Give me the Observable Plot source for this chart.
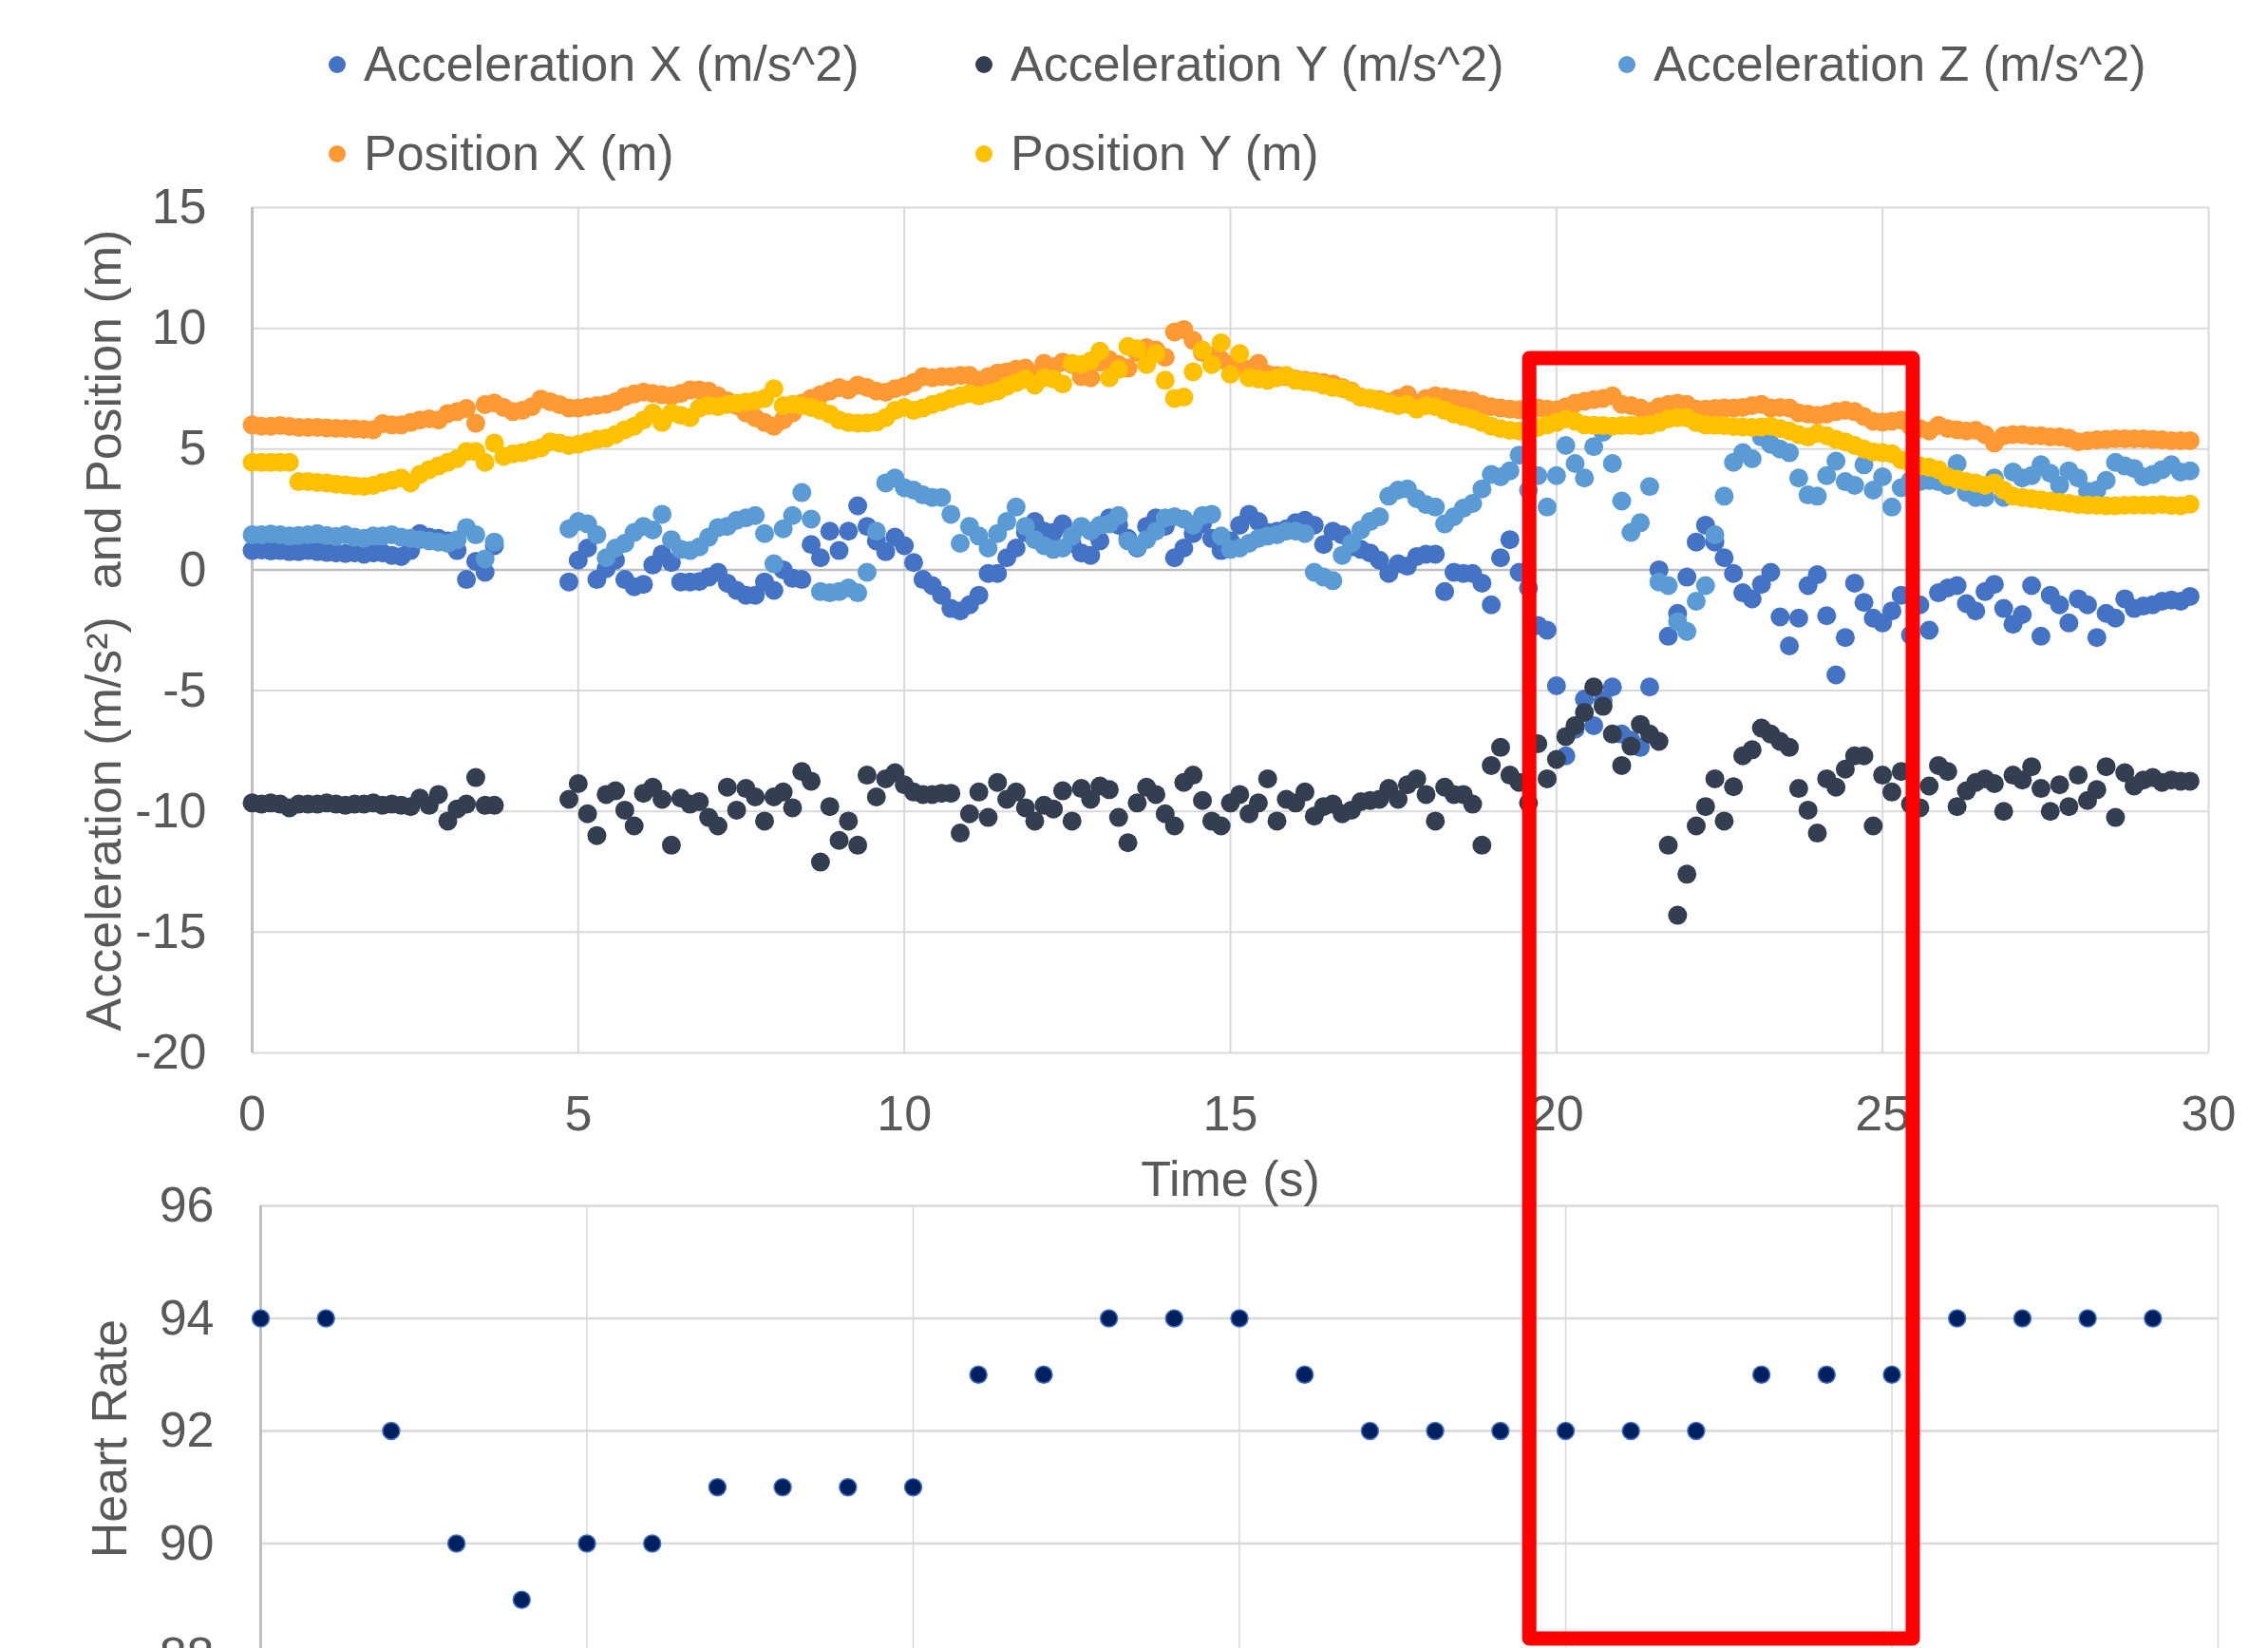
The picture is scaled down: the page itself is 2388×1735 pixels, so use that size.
<!DOCTYPE html>
<html>
<head>
<meta charset="utf-8">
<script src="https://cdn.jsdelivr.net/npm/d3@7"></script>
<script src="https://cdn.jsdelivr.net/npm/@observablehq/plot@0.6"></script>
<style>
html,body{margin:0;padding:0;background:#fff;}
body{width:2388px;height:1735px;overflow:hidden;position:relative;font-family:"Liberation Sans",Arial,sans-serif;color:#595959;}
.item{position:absolute;font-size:52px;line-height:52px;white-space:nowrap;color:#595959;}
.sw{position:absolute;width:18px;height:18px;border-radius:50%;}
.chart{position:absolute;left:0;}
</style>
</head>
<body>
<div id="legend"></div>
<div id="hr" class="chart" style="top:1255px"></div>
<div id="top" class="chart" style="top:200px"></div>
<script>
// ---- data (sampled 7 times per second, one row of 7 per second) ----
const samplesPerSecond = 7;

const accelX = [
 0.8,0.82,0.78,0.8,0.75,0.75,0.8,
 0.75,0.72,0.7,0.68,0.7,0.65,0.7,
 0.7,0.6,0.55,0.8,1.5,1.35,1.3,
 1.2,0.8,-0.4,0.35,-0.1,1.0,null,
 null,null,null,null,null,null,-0.5,
 0.4,0.9,-0.4,0.05,0.4,-0.4,-0.7,
 -0.6,0.2,0.65,0.3,-0.5,-0.5,-0.48,
 -0.3,-0.1,-0.55,-0.85,-1.05,-1.05,-0.5,
 -0.85,0.0,-0.35,-0.4,1.05,0.5,1.6,
 0.8,1.6,2.65,1.8,1.2,0.75,1.35,
 1.0,0.3,-0.4,-0.65,-1.05,-1.6,-1.7,
 -1.45,-1.05,-0.15,-0.15,0.5,0.9,1.55,
 2.0,1.6,1.55,1.9,1.1,0.7,0.6,
 1.2,2.15,1.85,1.3,0.9,1.8,2.15,
 1.8,0.5,0.9,1.5,1.9,1.3,0.8,
 1.2,1.85,2.3,2.0,1.55,1.6,1.7,
 1.95,2.05,1.85,1.05,1.6,1.45,0.95,
 0.85,0.7,0.4,-0.15,0.25,0.15,0.55,
 0.65,0.65,-0.9,-0.1,-0.15,-0.15,-0.55,
 -1.45,0.5,1.25,-0.1,-0.75,-2.3,-2.5,
 -4.8,-7.7,-6.6,-5.35,-6.45,-5.4,-4.85,
 -6.8,-7.05,-7.35,-4.85,0.0,-2.75,-1.8,
 -0.3,1.15,1.85,1.15,0.5,-0.15,-0.95,
 -1.2,-0.6,-0.1,-1.95,-3.15,-2.0,-0.65,
 -0.2,-1.9,-4.35,-2.8,-0.55,-1.35,-2.0,
 -2.2,-1.7,-1.05,-2.7,-1.45,-2.5,-0.95,
 -0.75,-0.65,-1.4,-1.7,-0.9,-0.6,-1.6,
 -2.25,-1.85,-0.65,-2.75,-1.05,-1.45,-2.2,
 -1.2,-1.45,-2.8,-1.8,-2.0,-1.2,-1.6,
 -1.5,-1.45,-1.3,-1.25,-1.3,-1.1
];

const accelY = [
 -9.65,-9.7,-9.65,-9.7,-9.85,-9.7,-9.7,
 -9.7,-9.65,-9.7,-9.75,-9.7,-9.7,-9.65,
 -9.75,-9.7,-9.75,-9.8,-9.45,-9.75,-9.3,
 -10.4,-9.9,-9.7,-8.6,-9.75,-9.75,null,
 null,null,null,null,null,null,-9.5,
 -8.85,-10.1,-11.0,-9.3,-9.15,-9.95,-10.6,
 -9.25,-9.0,-9.5,-11.4,-9.45,-9.7,-9.6,
 -10.25,-10.6,-9.0,-9.95,-9.05,-9.4,-10.4,
 -9.4,-9.2,-9.85,-8.35,-8.75,-12.1,-9.8,
 -11.2,-10.4,-11.4,-8.5,-9.4,-8.65,-8.4,
 -8.9,-9.2,-9.3,-9.3,-9.25,-9.25,-10.9,
 -10.1,-9.2,-10.25,-8.8,-9.5,-9.2,-9.85,
 -10.4,-9.75,-9.9,-9.15,-10.4,-9.05,-9.5,
 -8.95,-9.1,-10.25,-11.3,-9.65,-9.0,-9.3,
 -10.1,-10.6,-8.8,-8.5,-9.55,-10.4,-10.6,
 -9.65,-9.3,-10.1,-9.65,-8.65,-10.4,-9.5,
 -9.65,-9.2,-10.2,-9.8,-9.7,-10.1,-9.95,
 -9.6,-9.55,-9.5,-9.05,-9.5,-8.9,-8.65,
 -9.3,-10.4,-9.0,-9.3,-9.3,-9.7,-11.4,
 -8.1,-7.35,-8.5,-8.8,-9.65,-7.2,-8.65,
 -7.85,-6.9,-6.45,-5.9,-4.85,-5.65,-6.8,
 -8.1,-7.3,-6.4,-6.8,-7.1,-11.4,-14.3,
 -12.6,-10.6,-9.8,-8.65,-10.4,-8.98,-7.7,
 -7.45,-6.55,-6.8,-7.1,-7.35,-9.05,-9.95,
 -10.9,-8.65,-9.0,-8.25,-7.7,-7.7,-10.6,
 -8.5,-9.2,-8.35,-9.7,-9.85,-8.95,-8.1,
 -8.35,-9.8,-9.15,-8.8,-8.65,-8.85,-10.0,
 -8.5,-8.7,-8.15,-9.05,-10.0,-8.9,-9.8,
 -8.5,-9.55,-9.1,-8.15,-10.25,-8.4,-8.95,
 -8.7,-8.6,-8.8,-8.7,-8.75,-8.75
];

const accelZ = [
 1.45,1.45,1.48,1.45,1.4,1.42,1.45,
 1.5,1.42,1.38,1.45,1.35,1.3,1.4,
 1.4,1.45,1.35,1.3,1.25,1.2,1.15,
 1.1,1.25,1.75,1.45,0.45,1.15,null,
 null,null,null,null,null,null,1.7,
 2.0,1.9,1.45,0.5,0.9,1.1,1.55,
 1.8,1.65,2.3,1.25,0.85,0.8,0.95,
 1.35,1.75,1.8,2.05,2.15,2.25,1.5,
 0.25,1.7,2.25,3.2,2.1,-0.9,-0.95,
 -0.9,-0.75,-0.95,-0.1,1.6,3.6,3.8,
 3.4,3.3,3.1,3.0,3.0,2.3,1.1,
 1.8,1.4,0.9,1.5,2.0,2.6,1.8,
 1.25,1.0,0.85,0.9,1.4,1.8,1.6,
 1.85,1.9,2.25,1.2,0.95,1.25,1.6,
 2.15,2.2,2.1,1.85,2.25,2.3,1.4,
 0.85,0.9,1.1,1.3,1.4,1.45,1.6,
 1.6,1.5,-0.1,-0.3,-0.45,0.6,1.1,
 1.65,2.0,2.2,3.05,3.3,3.35,2.95,
 2.7,2.6,1.9,2.2,2.55,2.75,3.35,
 3.95,3.85,4.1,4.75,3.3,3.9,2.6,
 3.9,5.15,4.4,3.8,5.1,5.7,4.4,
 2.85,1.55,1.95,3.45,-0.5,-0.65,-2.15,
 -2.55,-1.3,-0.65,1.45,3.05,4.45,4.85,
 4.6,5.5,5.2,5.0,4.85,3.8,3.1,
 3.05,3.9,4.5,3.65,3.5,4.35,3.3,
 3.85,2.6,3.4,3.7,3.65,3.7,3.65,
 3.5,4.4,3.2,3.0,3.0,3.8,3.0,
 4.05,3.8,3.9,4.35,4.0,3.5,4.1,
 3.8,3.25,3.3,3.7,4.45,4.3,4.2,
 3.85,3.95,4.15,4.35,4.05,4.1
];

const positionX = [
 6.0,5.95,5.95,5.97,5.94,5.9,5.9,
 5.9,5.88,5.86,5.85,5.84,5.82,5.8,
 6.05,6.0,6.0,6.1,6.2,6.25,6.2,
 6.47,6.55,6.68,6.07,6.84,6.91,6.72,
 6.55,6.6,6.75,7.07,6.96,6.84,6.7,
 6.7,6.75,6.8,6.85,6.96,7.17,7.28,
 7.36,7.3,7.25,7.2,7.3,7.45,7.45,
 7.4,7.2,7.0,6.8,6.5,6.3,6.1,
 5.95,6.2,6.5,6.9,7.1,7.25,7.4,
 7.55,7.45,7.65,7.55,7.4,7.35,7.5,
 7.6,7.75,8.0,7.95,8.0,8.0,8.05,
 8.05,7.85,8.0,8.15,8.2,8.3,8.35,
 8.1,8.55,8.4,8.6,8.5,8.0,7.95,
 8.6,8.7,8.5,8.35,9.0,9.2,9.1,
 8.8,9.85,9.95,9.5,9.0,8.85,8.7,
 8.5,8.4,8.3,8.55,8.1,8.05,8.0,
 7.9,7.85,7.8,7.75,7.7,7.55,7.4,
 7.15,7.1,7.05,6.95,7.1,7.25,6.9,
 7.1,7.2,7.15,7.1,7.05,7.0,6.85,
 6.75,6.7,6.65,6.63,6.65,6.7,6.65,
 6.62,6.75,6.9,6.98,7.05,7.1,7.2,
 6.85,6.8,6.7,6.55,6.75,6.85,6.9,
 6.85,6.65,6.65,6.68,6.7,6.7,6.72,
 6.8,6.85,6.7,6.72,6.7,6.5,6.45,
 6.4,6.45,6.55,6.6,6.55,6.35,6.15,
 6.12,6.15,6.2,5.95,5.85,5.75,5.98,
 5.85,5.8,5.75,5.78,5.6,5.25,5.55,
 5.6,5.6,5.55,5.55,5.5,5.5,5.45,
 5.3,5.35,5.38,5.4,5.42,5.42,5.42,
 5.42,5.4,5.38,5.35,5.35,5.35
];

const positionY = [
 4.45,4.45,4.45,4.45,4.45,3.65,3.65,
 3.62,3.6,3.55,3.52,3.48,3.45,3.5,
 3.62,3.7,3.8,3.6,3.95,4.15,4.3,
 4.45,4.6,4.9,4.9,4.45,5.25,4.7,
 4.8,4.85,4.95,5.05,5.3,5.25,5.15,
 5.2,5.3,5.4,5.45,5.6,5.8,5.95,
 6.2,6.5,6.1,6.5,6.4,6.3,6.7,
 6.8,6.75,6.85,6.9,6.95,7.0,7.1,
 7.5,6.8,6.85,6.8,6.72,6.6,6.45,
 6.2,6.1,6.07,6.08,6.12,6.3,6.6,
 6.72,6.6,6.7,6.85,6.95,7.1,7.2,
 7.3,7.2,7.3,7.4,7.6,7.75,7.9,
 7.65,7.95,7.9,7.7,8.55,8.5,8.65,
 9.05,7.95,8.3,9.25,9.15,8.5,8.95,
 7.85,7.1,7.15,8.2,9.1,8.5,9.4,
 8.1,8.95,7.95,7.9,7.85,7.95,8.05,
 7.85,7.8,7.75,7.65,7.55,7.5,7.35,
 7.15,7.1,7.0,6.9,6.8,6.85,6.65,
 6.8,6.75,6.6,6.45,6.35,6.25,6.1,
 5.95,5.85,5.78,5.75,5.75,5.9,6.0,
 6.1,6.25,6.15,6.0,5.98,5.97,5.95,
 5.97,5.98,5.96,6.0,6.1,6.25,6.3,
 6.3,6.1,6.0,5.98,5.97,5.93,5.92,
 5.9,5.92,5.95,5.85,5.75,5.6,5.5,
 5.65,5.55,5.4,5.3,5.15,5.0,4.88,
 4.85,4.8,4.55,4.4,4.3,4.25,4.15,
 3.85,3.75,3.65,3.6,3.5,3.6,3.3,
 3.05,3.0,2.95,2.9,2.85,2.8,2.75,
 2.7,2.68,2.67,2.65,2.65,2.67,2.68,
 2.68,2.68,2.7,2.66,2.65,2.72
];

const hrTime = [0,1,2,3,4,5,6,7,8,9,10,11,12,13,14,15,16,17,18,19,20,21,22,23,24,25,26,27,28,29];
const heartRate = [94,94,92,90,89,90,90,91,91,91,91,93,93,94,94,94,93,92,92,92,92,92,92,93,93,93,94,94,94,94];

const seriesNames = ["Acceleration X (m/s^2)","Acceleration Y (m/s^2)","Acceleration Z (m/s^2)","Position X (m)","Position Y (m)"];
const seriesColors = ["#4472C4","#333F50","#5B9BD5","#FF9933","#FFC000"];
const seriesValues = [accelX, accelY, accelZ, positionX, positionY];

const xTicks = [0,5,10,15,20,25,30];
const yTicks = [-20,-15,-10,-5,0,5,10,15];
const hrTicks = [88,90,92,94,96];

const xTitle = "Time (s)";
const yTitle = "Acceleration (m/s\u00B2)\u00A0 and Position (m)";
const hrTitle = "Heart Rate";

// highlighted time window (annotation spanning both panels, in top-panel data units)
const highlight = [{t1: 19.59, t2: 25.47, lo: -44.26, hi: 8.75}];

// ---- legend ----
const legendLayout = [[355,68],[1036,68],[1713,68],[355,162],[1036,162]];
const legend = document.getElementById("legend");
seriesNames.forEach((name, i) => {
  const [cx, cy] = legendLayout[i];
  const sw = document.createElement("div");
  sw.className = "sw";
  sw.style.left = (cx - 9) + "px";
  sw.style.top = (cy - 9) + "px";
  sw.style.background = seriesColors[i];
  legend.appendChild(sw);
  const it = document.createElement("div");
  it.className = "item";
  it.style.left = (cx + 28) + "px";
  it.style.top = (cy - 27) + "px";
  it.textContent = name;
  legend.appendChild(it);
});

// ---- top panel ----
const fontFamily = "'Liberation Sans', Arial, sans-serif";
const rowsFor = vals => vals.map((v, i) => ({t: i / samplesPerSecond, v})).filter(d => d.v != null);

const dotMarks = seriesValues.map((vals, i) =>
  Plot.dot(rowsFor(vals), {x: "t", y: "v", r: 10, fill: seriesColors[i], stroke: "none"})
);

const topPlot = Plot.plot({
  width: 2388, height: 1068,
  marginLeft: 265, marginRight: 63, marginTop: 18, marginBottom: 160,
  style: {fontFamily, fontSize: "52px", color: "#595959", background: "transparent", overflow: "visible"},
  x: {domain: [0, 30]},
  y: {domain: [-20, 15]},
  marks: [
    Plot.gridX(xTicks, {stroke: "#d9d9d9", strokeOpacity: 1, strokeWidth: 2}),
    Plot.gridY(yTicks, {stroke: "#d9d9d9", strokeOpacity: 1, strokeWidth: 2}),
    Plot.ruleY([0], {stroke: "#bfbfbf", strokeWidth: 2.5}),
    Plot.ruleX([0], {stroke: "#bfbfbf", strokeWidth: 3}),
    Plot.axisX(xTicks, {tickSize: 0, tickPadding: 45, label: null, tickFormat: d => String(d)}),
    Plot.axisY(yTicks, {tickSize: 0, tickPadding: 48, label: null, tickFormat: d => String(d)}),
    ...dotMarks,
    Plot.text([xTitle], {frameAnchor: "bottom", dy: 134, text: d => d, lineAnchor: "middle", fill: "#595959"}),
    Plot.text([yTitle], {frameAnchor: "left", dx: -155, rotate: -90, text: d => d, textAnchor: "middle", lineAnchor: "middle", fill: "#595959"}),
    Plot.rect(highlight, {x1: "t1", x2: "t2", y1: "lo", y2: "hi", fill: "none", stroke: "#FF0000", strokeWidth: 15, strokeLinejoin: "round"})
  ]
});
document.getElementById("top").appendChild(topPlot);

// ---- bottom panel: heart rate ----
const hrRows = hrTime.map((t, i) => ({t, hr: heartRate[i]}));
const hrPlot = Plot.plot({
  width: 2388, height: 508,
  marginLeft: 274, marginRight: 53, marginTop: 14, marginBottom: 20,
  style: {fontFamily, fontSize: "52px", color: "#595959", background: "transparent", overflow: "visible"},
  x: {domain: [0, 30], axis: null},
  y: {domain: [88, 96]},
  marks: [
    Plot.gridX(xTicks, {stroke: "#d9d9d9", strokeOpacity: 1, strokeWidth: 1.5}),
    Plot.gridY(hrTicks, {stroke: "#d9d9d9", strokeOpacity: 1, strokeWidth: 2.5}),
    Plot.ruleX([0], {stroke: "#bfbfbf", strokeWidth: 3}),
    Plot.axisY(hrTicks, {tickSize: 0, tickPadding: 49, label: null, tickFormat: d => String(d)}),
    Plot.dot(hrRows, {x: "t", y: "hr", r: 9, fill: "#002060", stroke: "#4472C4", strokeWidth: 1.5}),
    Plot.text([hrTitle], {frameAnchor: "left", dx: -158, dy: 8, rotate: -90, text: d => d, textAnchor: "middle", lineAnchor: "middle", fill: "#595959"})
  ]
});
document.getElementById("hr").appendChild(hrPlot);
</script>
</body>
</html>
